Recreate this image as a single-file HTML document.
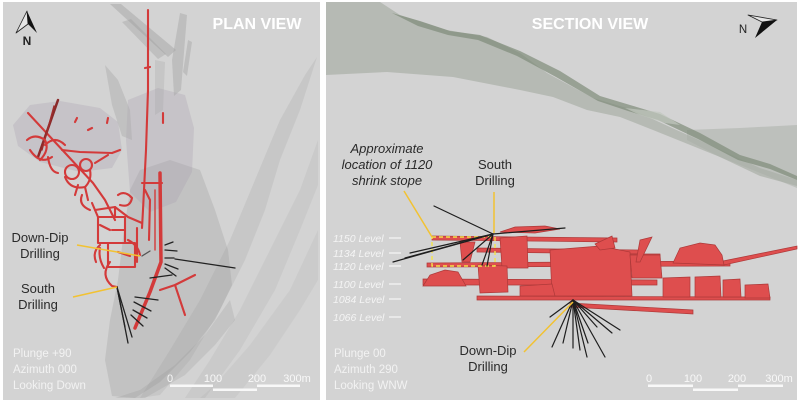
<!DOCTYPE html>
<html><head><meta charset="utf-8"><style>
html,body{margin:0;padding:0;background:#fff;}
svg{display:block;}
text{font-family:"Liberation Sans",sans-serif;}
</style></head><body>
<svg width="800" height="403" viewBox="0 0 800 403" xmlns="http://www.w3.org/2000/svg">
<rect x="0" y="0" width="800" height="403" fill="#ffffff"/>
<!-- LEFT PANEL -->
<rect x="3" y="2" width="317" height="398" fill="#d3d3d3"/>
<g>
  <polygon points="317,57 300,110 280,160 265,210 245,260 220,310 190,360 160,395 140,398 170,350 200,300 230,240 255,180 280,120 305,75" fill="#9a9a9a" opacity="0.2"/>
  <polygon points="318,140 300,190 270,250 240,310 210,360 185,398 205,398 240,350 275,290 300,230 318,185" fill="#9a9a9a" opacity="0.16"/>
  <polygon points="318,230 290,290 250,345 215,385 200,398 235,398 270,355 300,310 318,280" fill="#9a9a9a" opacity="0.13"/>
  <polygon points="140,170 170,160 200,170 215,210 228,250 232,285 215,320 190,352 160,382 135,398 112,396 105,360 110,320 118,280 124,230 130,190" fill="#8e8e8e" opacity="0.25"/>
  <polygon points="230,300 205,335 175,365 140,390 115,398 145,398 185,375 215,345 235,320" fill="#8e8e8e" opacity="0.2"/>
  <polygon points="13,125 30,105 60,101 100,108 118,122 122,150 112,168 80,172 40,162 18,146" fill="#aaa2b2" opacity="0.32"/>
  <polygon points="128,100 158,88 185,95 194,128 192,172 176,202 150,212 130,192 126,140" fill="#aaa2b2" opacity="0.32"/>
  <polygon points="105,65 118,80 130,110 132,140 122,136 112,105" fill="#a8a8a8" opacity="0.4"/>
  <polygon points="110,4 121,4 176,50 168,57" fill="#9c9c9c" opacity="0.4"/>
  <polygon points="122,22 131,19 166,54 158,59" fill="#9c9c9c" opacity="0.35"/>
  <polygon points="180,13 187,15 181,90 174,96 172,60" fill="#a0a0a0" opacity="0.4"/>
  <polygon points="188,40 192,42 187,76 183,72" fill="#a0a0a0" opacity="0.4"/>
  <polygon points="155,60 165,62 163,110 155,115" fill="#a0a0a0" opacity="0.25"/>
</g>
<g fill="none" stroke="#d33a3a" stroke-width="2.1" stroke-linecap="round" stroke-linejoin="round">
  <path d="M148,10 V90 L146,150 L143,210 L142,228"/>
  <path d="M160,173 L161,262 L150,292 L135,328" stroke-width="3.5"/>
  <path d="M142,183 H162"/>
  <path d="M28,113 L93,183 L105,200 L115,220"/>
  <path d="M58,100 L38,157" stroke="#8a2a2a" stroke-width="2.5"/>
  <path d="M54,106 L42,150" stroke="#a02c2c" stroke-width="1.4"/>
  <path d="M27,140 Q35,133 45,140 Q50,150 40,160"/>
  <path d="M30,150 Q40,165 52,157"/>
  <path d="M48,157 Q50,172 58,173"/>
  <path d="M45,145 Q55,135 65,145"/>
  <path d="M62,150 L80,152 L112,153"/>
  <path d="M95,163 L108,155"/>
  <circle cx="72" cy="172" r="7"/>
  <circle cx="86" cy="165" r="6"/>
  <path d="M65,177 Q70,190 85,187 Q92,180 90,170"/>
  <path d="M85,187 L88,200"/>
  <path d="M78,185 L75,195"/>
  <path d="M82,195 Q78,205 90,210"/>
  <path d="M95,210 L115,207 L128,217 L142,223"/>
  <path d="M98,217 H125 V243 H98 Z"/>
  <path d="M108,243 H135 V267 H108 Z"/>
  <path d="M115,207 V217"/>
  <path d="M112,230 H125"/>
  <path d="M92,203 L98,217"/>
  <path d="M100,225 L110,230"/>
  <path d="M118,195 Q125,190 132,198 Q130,208 120,205"/>
  <path d="M128,240 Q138,245 140,255"/>
  <path d="M100,245 Q92,252 96,262"/>
  <path d="M118,252 L130,256"/>
  <path d="M137,228 L137,262"/>
  <path d="M145,190 L150,200 L149,240"/>
  <path d="M110,262 Q100,275 112,286 L117,287"/>
  <path d="M104,268 Q98,258 100,248"/>
  <path d="M75,122 L77,118"/>
  <path d="M107,123 L108,118"/>
  <path d="M88,130 L92,128"/>
  <path d="M112,153 L120,150"/>
  <path d="M160,290 L175,285 L195,275"/>
  <path d="M175,285 L180,300 L185,315"/>
  <path d="M145,68 L150,67"/>
  <path d="M163,113 L163,123"/>
  <path d="M155,190 L155,250" stroke-width="1.4"/>
</g>
<g stroke="#222" stroke-width="1.3" stroke-linecap="round">
  <line x1="165" y1="245" x2="173" y2="242"/>
  <line x1="165" y1="250" x2="177" y2="251"/>
  <line x1="165" y1="258" x2="174" y2="258"/>
  <line x1="175" y1="259" x2="235" y2="268"/>
  <line x1="165" y1="264" x2="178" y2="269"/>
  <line x1="165" y1="268" x2="176" y2="276"/>
  <line x1="150" y1="278" x2="172" y2="275"/>
  <line x1="135" y1="297" x2="158" y2="300"/>
  <line x1="134" y1="302" x2="151" y2="311"/>
  <line x1="133" y1="310" x2="147" y2="318"/>
  <line x1="131" y1="315" x2="143" y2="326"/>
  <line x1="117" y1="287" x2="128" y2="343"/>
  <line x1="117" y1="287" x2="132" y2="337"/>
  <line x1="117" y1="287" x2="125" y2="327"/>
  <line x1="142" y1="256" x2="150" y2="251" stroke="#555"/>
</g>
<g stroke="#f2c232" stroke-width="1.5">
  <line x1="77" y1="245" x2="140" y2="256"/>
  <line x1="73" y1="297" x2="117" y2="287"/>
</g>
<polygon points="27,11 16,33 28,24" fill="#e6e6e6" stroke="#222" stroke-width="0.8" stroke-linejoin="round"/>
<polygon points="27,11 37,33 28,24" fill="#111"/>
<text x="27" y="45" font-size="12" font-weight="bold" fill="#222" text-anchor="middle">N</text>
<text x="257" y="29" font-size="16" font-weight="bold" fill="#ffffff" text-anchor="middle">PLAN VIEW</text>
<g fill="#f2f2f2" font-size="11.5">
  <text x="13" y="357">Plunge +90</text>
  <text x="13" y="373">Azimuth 000</text>
  <text x="13" y="389">Looking Down</text>
</g>
<g fill="#f8f8f8" font-size="11">
  <text x="170" y="382" text-anchor="middle">0</text>
  <text x="213" y="382" text-anchor="middle">100</text>
  <text x="257" y="382" text-anchor="middle">200</text>
  <text x="297" y="382" text-anchor="middle">300m</text>
  <rect x="170" y="384.5" width="43" height="2.5"/>
  <rect x="213" y="388.5" width="44" height="2.5"/>
  <rect x="257" y="384.5" width="43" height="2.5"/>
</g>
<g fill="#2a2a2a" font-size="13" text-anchor="middle">
  <text x="40" y="242">Down-Dip</text>
  <text x="40" y="258">Drilling</text>
  <text x="38" y="293">South</text>
  <text x="38" y="309">Drilling</text>
</g>

<!-- RIGHT PANEL -->
<rect x="326" y="2" width="471" height="398" fill="#d3d3d3"/>
<g>
  <polygon points="326,2 380,2 400,15 447,30 487,37 520,53 547,73 593,98 633,110 670,127 710,145 760,168 797,180 797,186 760,176 720,157 653,130 620,117 587,110 553,97 520,90 453,77 387,72 326,75" fill="#9ea69a" opacity="0.55"/>
  <polygon points="687,130 740,128 797,125 797,188 753,170 720,157 687,140" fill="#a8aea5" opacity="0.5"/>
  <polygon points="392,13 420,21 450,31 480,35 520,51 560,71 600,96 630,105 660,114 700,133 740,155 770,164 797,176 797,180 770,169 738,160 698,139 658,120 628,111 598,101 556,77 517,56 478,40 448,35 418,26" fill="#7f8c79" opacity="0.7"/>
  <polygon points="625,108 660,112 680,125 665,123 640,115" fill="#c2c8bf" opacity="0.7"/>
</g>
<g fill="#e03c3c" stroke="#a82424" stroke-width="0.7" opacity="0.88">
  <polygon points="500,232 515,227 545,226 560,229 535,233"/>
  <polygon points="432,236 617,238 617,242 432,240"/>
  <polygon points="477,248 640,250 640,254 477,252"/>
  <polygon points="560,254 660,254 660,258 560,258"/>
  <polygon points="427,263 730,261 730,266 427,267"/>
  <polygon points="723,261 797,246 797,249 724,265"/>
  <polygon points="423,279 657,280 657,285 423,285"/>
  <polygon points="477,296 770,297 770,300 477,300"/>
  <polygon points="570,303 693,310 693,314 570,307"/>
  <polygon points="423,286 430,275 445,270 458,272 466,286"/>
  <polygon points="500,238 527,236 528,268 502,268"/>
  <polygon points="478,265 507,266 508,292 480,293"/>
  <polygon points="550,250 600,246 630,252 632,296 552,296"/>
  <polygon points="595,244 612,236 615,248 600,250"/>
  <polygon points="673,263 680,248 700,243 715,245 722,255 724,265"/>
  <polygon points="663,278 690,277 690,297 663,297"/>
  <polygon points="695,277 720,276 721,297 695,297"/>
  <polygon points="723,280 740,279 741,297 723,297"/>
  <polygon points="745,285 768,284 770,298 745,298"/>
  <polygon points="520,286 552,284 555,296 520,296"/>
  <polygon points="630,255 660,255 662,278 632,278"/>
  <polygon points="460,242 475,242 470,262 462,262"/>
  <polygon points="640,240 652,237 640,262 636,262"/>
</g>
<rect x="432" y="237" width="63" height="29" fill="none" stroke="#f5e44a" stroke-width="1.4" stroke-dasharray="4,3"/>
<g stroke="#1e1e1e" stroke-width="1.2" stroke-linecap="round">
  <line x1="493" y1="234" x2="434" y2="206"/>
  <line x1="493" y1="234" x2="565" y2="228"/>
  <line x1="493" y1="234" x2="410" y2="253"/>
  <line x1="493" y1="234" x2="393" y2="262"/>
  <line x1="493" y1="234" x2="463" y2="260"/>
  <line x1="493" y1="234" x2="482" y2="265"/>
  <line x1="493" y1="234" x2="487" y2="266"/>
  <line x1="493" y1="234" x2="405" y2="258"/>
  <line x1="573" y1="300" x2="550" y2="317"/>
  <line x1="573" y1="300" x2="552" y2="347"/>
  <line x1="573" y1="300" x2="563" y2="343"/>
  <line x1="573" y1="300" x2="573" y2="348"/>
  <line x1="573" y1="300" x2="587" y2="357"/>
  <line x1="573" y1="300" x2="588" y2="343"/>
  <line x1="573" y1="300" x2="605" y2="357"/>
  <line x1="573" y1="300" x2="612" y2="333"/>
  <line x1="573" y1="300" x2="620" y2="330"/>
  <line x1="573" y1="300" x2="597" y2="327"/>
  <line x1="573" y1="300" x2="580" y2="350"/>
</g>
<g stroke="#f2c232" stroke-width="1.5">
  <line x1="404" y1="191" x2="432" y2="237"/>
  <line x1="494" y1="192" x2="494" y2="233"/>
  <line x1="573" y1="302" x2="524" y2="352"/>
</g>
<g fill="#f4f4f4" font-size="10.5" font-style="italic">
  <text x="333" y="242">1150 Level</text>
  <text x="333" y="257">1134 Level</text>
  <text x="333" y="270">1120 Level</text>
  <text x="333" y="288">1100 Level</text>
  <text x="333" y="303">1084 Level</text>
  <text x="333" y="321">1066 Level</text>
</g>
<g stroke="#f4f4f4" stroke-width="1.3">
  <line x1="389" y1="238" x2="401" y2="238"/>
  <line x1="389" y1="253" x2="401" y2="253"/>
  <line x1="389" y1="266" x2="401" y2="266"/>
  <line x1="389" y1="284" x2="401" y2="284"/>
  <line x1="389" y1="299" x2="401" y2="299"/>
  <line x1="389" y1="317" x2="401" y2="317"/>
</g>
<g fill="#2a2a2a" font-size="13" text-anchor="middle">
  <text x="387" y="153" font-style="italic">Approximate</text>
  <text x="387" y="169" font-style="italic">location of 1120</text>
  <text x="387" y="185" font-style="italic">shrink stope</text>
  <text x="495" y="169">South</text>
  <text x="495" y="185">Drilling</text>
  <text x="488" y="355">Down-Dip</text>
  <text x="488" y="371">Drilling</text>
</g>
<text x="590" y="29" font-size="16" font-weight="bold" fill="#ffffff" text-anchor="middle">SECTION VIEW</text>
<polygon points="777,20 748,15 762,22" fill="#e6e6e6" stroke="#222" stroke-width="0.8" stroke-linejoin="round"/>
<polygon points="777,20 755,38 762,22" fill="#111"/>
<text x="743" y="33" font-size="11.5" fill="#222" text-anchor="middle">N</text>
<g fill="#f2f2f2" font-size="11.5">
  <text x="334" y="357">Plunge 00</text>
  <text x="334" y="373">Azimuth 290</text>
  <text x="334" y="389">Looking WNW</text>
</g>
<g fill="#f8f8f8" font-size="11">
  <text x="649" y="382" text-anchor="middle">0</text>
  <text x="693" y="382" text-anchor="middle">100</text>
  <text x="737" y="382" text-anchor="middle">200</text>
  <text x="779" y="382" text-anchor="middle">300m</text>
  <rect x="648" y="384.5" width="45" height="2.5"/>
  <rect x="693" y="388.5" width="45" height="2.5"/>
  <rect x="738" y="384.5" width="45" height="2.5"/>
</g>
</svg>
</body></html>
